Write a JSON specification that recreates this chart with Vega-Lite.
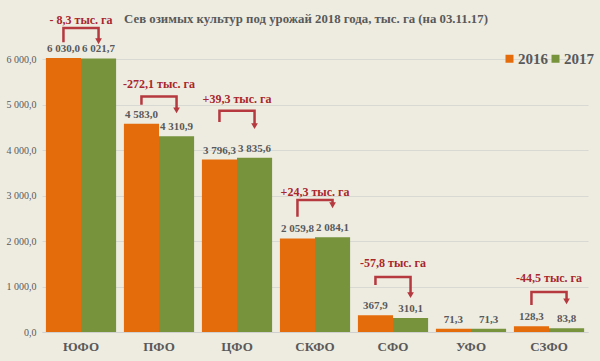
{
  "$schema": "https://vega.github.io/schema/vega-lite/v6.json",
  "width": 546,
  "height": 318,
  "autosize": "none",
  "padding": {"left": 42, "top": 14, "right": 12, "bottom": 29},
  "background": "#EEECE1",
  "title": {
    "text": "Сев озимых культур под урожай 2018 года, тыс. га (на 03.11.17)",
    "font": "Liberation Serif",
    "fontSize": 12.8,
    "fontWeight": "bold",
    "color": "#595959",
    "anchor": "middle",
    "offset": -12,
    "dx": -9
  },
  "datasets": {
    "bars": [
      {"region": "ЮФО", "year": "2016", "value": 6030.0},
      {"region": "ЮФО", "year": "2017", "value": 6021.7},
      {"region": "ПФО", "year": "2016", "value": 4583.0},
      {"region": "ПФО", "year": "2017", "value": 4310.9},
      {"region": "ЦФО", "year": "2016", "value": 3796.3},
      {"region": "ЦФО", "year": "2017", "value": 3835.6},
      {"region": "СКФО", "year": "2016", "value": 2059.8},
      {"region": "СКФО", "year": "2017", "value": 2084.1},
      {"region": "СФО", "year": "2016", "value": 367.9},
      {"region": "СФО", "year": "2017", "value": 310.1},
      {"region": "УФО", "year": "2016", "value": 71.3},
      {"region": "УФО", "year": "2017", "value": 71.3},
      {"region": "СЗФО", "year": "2016", "value": 128.3},
      {"region": "СЗФО", "year": "2017", "value": 83.8}
    ],
    "notes": [
      {"region": "ЮФО", "label": "- 8,3 тыс. га", "y": 6870},
      {"region": "ПФО", "label": "-272,1 тыс. га", "y": 5460},
      {"region": "ЦФО", "label": "+39,3 тыс. га", "y": 5130},
      {"region": "СКФО", "label": "+24,3 тыс. га", "y": 3085},
      {"region": "СФО", "label": "-57,8 тыс. га", "y": 1520},
      {"region": "СЗФО", "label": "-44,5 тыс. га", "y": 1190}
    ],
    "brackets": [
      {"region": "ЮФО", "year": "2016", "y": 6380, "k": 0},
      {"region": "ЮФО", "year": "2016", "y": 6690, "k": 1},
      {"region": "ЮФО", "year": "2017", "y": 6690, "k": 2},
      {"region": "ЮФО", "year": "2017", "y": 6400, "k": 3},
      {"region": "ПФО", "year": "2016", "y": 5000, "k": 0},
      {"region": "ПФО", "year": "2016", "y": 5185, "k": 1},
      {"region": "ПФО", "year": "2017", "y": 5185, "k": 2},
      {"region": "ПФО", "year": "2017", "y": 4880, "k": 3},
      {"region": "ЦФО", "year": "2016", "y": 4625, "k": 0},
      {"region": "ЦФО", "year": "2016", "y": 4870, "k": 1},
      {"region": "ЦФО", "year": "2017", "y": 4870, "k": 2},
      {"region": "ЦФО", "year": "2017", "y": 4530, "k": 3},
      {"region": "СКФО", "year": "2016", "y": 2535, "k": 0},
      {"region": "СКФО", "year": "2016", "y": 2905, "k": 1},
      {"region": "СКФО", "year": "2017", "y": 2905, "k": 2},
      {"region": "СКФО", "year": "2017", "y": 2790, "k": 3},
      {"region": "СФО", "year": "2016", "y": 1035, "k": 0},
      {"region": "СФО", "year": "2016", "y": 1210, "k": 1},
      {"region": "СФО", "year": "2017", "y": 1210, "k": 2},
      {"region": "СФО", "year": "2017", "y": 810, "k": 3},
      {"region": "СЗФО", "year": "2016", "y": 595, "k": 0},
      {"region": "СЗФО", "year": "2016", "y": 880, "k": 1},
      {"region": "СЗФО", "year": "2017", "y": 880, "k": 2},
      {"region": "СЗФО", "year": "2017", "y": 675, "k": 3}
    ],
    "arrows": [
      {"region": "ЮФО", "year": "2017", "y": 6400},
      {"region": "ПФО", "year": "2017", "y": 4880},
      {"region": "ЦФО", "year": "2017", "y": 4530},
      {"region": "СКФО", "year": "2017", "y": 2790},
      {"region": "СФО", "year": "2017", "y": 810},
      {"region": "СЗФО", "year": "2017", "y": 675}
    ]
  },
  "encoding": {
    "x": {
      "field": "region",
      "type": "nominal",
      "sort": ["ЮФО", "ПФО", "ЦФО", "СКФО", "СФО", "УФО", "СЗФО"],
      "scale": {"paddingInner": 0.1, "paddingOuter": 0.05},
      "axis": {
        "title": null,
        "labelAngle": 0,
        "labelFont": "Liberation Serif",
        "labelFontSize": 13,
        "labelFontWeight": "bold",
        "labelColor": "#595959",
        "labelPadding": 8,
        "ticks": false,
        "domainColor": "#D0D0D0"
      }
    }
  },
  "layer": [
    {
      "data": {"name": "bars"},
      "mark": {"type": "bar"},
      "encoding": {
        "xOffset": {"field": "year", "type": "nominal", "scale": {"paddingInner": 0, "paddingOuter": 0}},
        "y": {
          "field": "value",
          "type": "quantitative",
          "scale": {"domain": [0, 7000], "nice": false},
          "axis": {
            "title": null,
            "values": [0, 1000, 2000, 3000, 4000, 5000, 6000],
            "format": ",.1f",
            "labelFont": "Liberation Serif",
            "labelFontSize": 10,
            "labelColor": "#595959",
            "domain": false,
            "ticks": false,
            "gridColor": "#D9D9D4",
            "labelPadding": 6
          }
        },
        "color": {
          "field": "year",
          "type": "nominal",
          "scale": {"domain": ["2016", "2017"], "range": ["#E46C0A", "#77933C"]},
          "legend": {
            "title": null,
            "orient": "none",
            "legendX": 460,
            "legendY": 37,
            "direction": "horizontal",
            "symbolType": "square",
            "symbolSize": 64,
            "symbolStrokeWidth": 0,
            "labelFont": "Liberation Serif",
            "labelFontSize": 15,
            "labelFontWeight": "bold",
            "labelColor": "#595959",
            "columnPadding": 0,
            "labelOffset": 1,
            "padding": 0
          }
        }
      }
    },
    {
      "data": {"name": "bars"},
      "mark": {"type": "text", "baseline": "bottom", "dy": -4, "font": "Liberation Serif", "fontSize": 11, "fontWeight": "bold", "color": "#595959"},
      "encoding": {
        "xOffset": {"field": "year", "type": "nominal"},
        "y": {"field": "value", "type": "quantitative"},
        "text": {"field": "value", "type": "quantitative", "format": ",.1f"}
      }
    },
    {
      "data": {"name": "brackets"},
      "mark": {"type": "line", "color": "#B5393F", "strokeWidth": 2.5, "clip": false},
      "encoding": {
        "xOffset": {"field": "year", "type": "nominal"},
        "y": {"field": "y", "type": "quantitative"},
        "detail": {"field": "region"},
        "order": {"field": "k", "type": "quantitative"}
      }
    },
    {
      "data": {"name": "arrows"},
      "mark": {"type": "point", "shape": "triangle-down", "filled": true, "color": "#B5393F", "size": 45, "opacity": 1},
      "encoding": {
        "xOffset": {"field": "year", "type": "nominal"},
        "y": {"field": "y", "type": "quantitative"}
      }
    },
    {
      "data": {"name": "notes"},
      "mark": {"type": "text", "font": "Liberation Serif", "fontSize": 12, "fontWeight": "bold", "color": "#A8262C"},
      "encoding": {
        "y": {"field": "y", "type": "quantitative"},
        "text": {"field": "label"}
      }
    }
  ],
  "config": {
    "view": {"stroke": null},
    "locale": {"number": {"decimal": ",", "thousands": " ", "grouping": [3], "currency": ["", ""]}}
  }
}
